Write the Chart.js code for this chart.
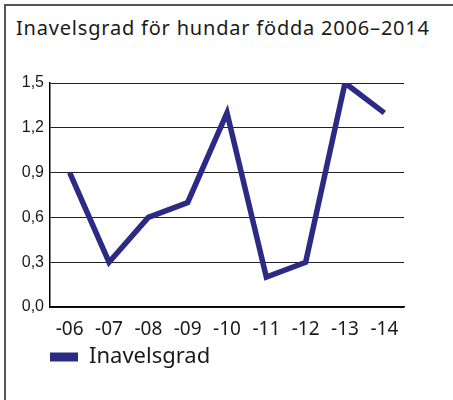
<!DOCTYPE html>
<html>
<head>
<meta charset="utf-8">
<script src="https://cdn.jsdelivr.net/npm/chart.js@4/dist/chart.umd.min.js"></script>
<style>
  body { margin: 0; background: #fff; }
  #wrap { position: relative; width: 453px; height: 400px; overflow: hidden; }
  #frame { position: absolute; left: 4px; top: 4px; width: 470px; height: 420px;
           border-top: 2px solid #555; border-left: 2px solid #555; }
  #title { position: absolute; left: 16px; top: 16px; font-family: 'Noto Sans', sans-serif;
           font-size: 20px; letter-spacing: 0.8px; line-height: 24px; color: #1a1a1a; white-space: nowrap; }
  canvas { position: absolute; left: 0; top: 0; }
</style>
</head>
<body>
<div id="wrap">
  <div id="frame"></div>
  <div id="title">Inavelsgrad för hundar födda 2006–2014</div>
  <canvas id="chart" width="453" height="400"></canvas>
</div>
<script>
// arsklasser och inavelsgrad (%)
var years = ['-06', '-07', '-08', '-09', '-10', '-11', '-12', '-13', '-14'];
var inavelsgrad = [0.9, 0.3, 0.6, 0.7, 1.3, 0.2, 0.3, 1.5, 1.3];
var seriesName = 'Inavelsgrad';
var lineColor = '#2b2a85';

new Chart(document.getElementById('chart'), {
    type: 'line',
    data: {
        labels: years,
        datasets: [{
            label: seriesName,
            data: inavelsgrad,
            borderColor: lineColor,
            backgroundColor: lineColor,
            borderWidth: 5.5,
            pointRadius: 0,
            tension: 0,
            borderJoinStyle: 'miter',
            borderCapStyle: 'butt'
        }]
    },
    options: {
        responsive: false,
        animation: false,
        layout: {
            padding: { left: 0, right: 49, top: 83, bottom: 22 }
        },
        plugins: {
            title: { display: false },
            tooltip: { enabled: false },
            legend: {
                position: 'bottom',
                align: 'start',
                fullSize: false,
                labels: {
                    boxWidth: 28,
                    boxHeight: 9,
                    padding: 0,
                    color: '#1a1a1a',
                    font: { family: 'Noto Sans', size: 22 },
                    generateLabels: function (chart) {
                        var items = Chart.defaults.plugins.legend.labels.generateLabels(chart);
                        items.forEach(function (it) {
                            it.lineWidth = 0;
                            it.fillStyle = lineColor;
                        });
                        return items;
                    }
                }
            }
        },
        scales: {
            x: {
                offset: true,
                grid: { display: false, drawTicks: false },
                border: { display: true, color: '#000', width: 1.5 },
                ticks: {
                    padding: 11,
                    color: '#1a1a1a',
                    font: { family: 'Noto Sans', size: 19 }
                },
                afterFit: function (scale) { scale.height = 39; }
            },
            y: {
                min: 0,
                max: 1.5,
                grid: { color: '#222', lineWidth: 1, drawTicks: false },
                border: { display: true, color: '#000', width: 1.5 },
                ticks: {
                    stepSize: 0.3,
                    padding: 6,
                    color: '#1a1a1a',
                    font: { family: 'Liberation Sans', size: 16 },
                    callback: function (v) { return v.toFixed(1).replace('.', ','); }
                },
                afterFit: function (scale) { scale.width = 50; }
            }
        }
    }
});
</script>
</body>
</html>
